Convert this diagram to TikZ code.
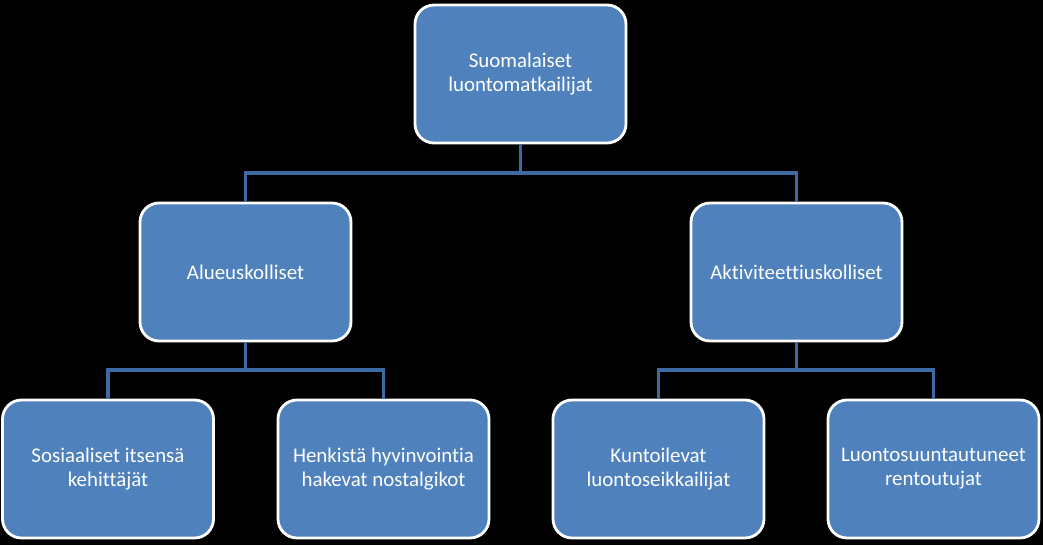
\documentclass[tikz,border=0pt]{standalone}
\usepackage{fontspec}
\setmainfont{Carlito}[Ligatures=NoCommon]
\usetikzlibrary{positioning,calc}
\definecolor{boxBlue}{HTML}{4F81BD}
\definecolor{lineBlue}{HTML}{3D6AA3}
\tikzset{
    orgbox/.style={draw=white, line width=1.6pt, fill=boxBlue, rounded corners=0.38cm,
        minimum width=4.22cm, minimum height=2.76cm, text=white, font=\fontsize{11.9}{13.6}\selectfont,
        align=center},
    orgline/.style={draw=lineBlue, line width=2.2pt}
}
\begin{document}
\begin{tikzpicture}
        \fill[black] (0,0) rectangle (20.86,-10.9);
        \useasboundingbox (0,0) rectangle (20.86,-10.9);
        \node[orgbox] (root) at (10.41,-1.48) {Suomalaiset\\luontomatkailijat};
        \node[orgbox] (alue) at (4.91,-5.44) {Alueuskolliset};
        \node[orgbox] (akti) at (15.93,-5.44) {Aktiviteettiuskolliset};
        \node[orgbox] (sosi) at (2.16,-9.38) {Sosiaaliset itsensä\\kehittäjät};
        \node[orgbox] (henk) at (7.67,-9.38) {Henkistä hyvinvointia\\hakevat nostalgikot};
        \node[orgbox] (kunt) at (13.17,-9.38) {Kuntoilevat\\luontoseikkailijat};
        \node[orgbox] (luon) at (18.67,-9.38) {Luontosuuntautuneet\\rentoutujat};
        \draw[orgline] (root.south) -- ++(0,-0.58) -| (alue.north);
        \draw[orgline] (root.south) -- ++(0,-0.58) -| (akti.north);
        \draw[orgline] (alue.south) -- ++(0,-0.56) -| (sosi.north);
        \draw[orgline] (alue.south) -- ++(0,-0.56) -| (henk.north);
        \draw[orgline] (akti.south) -- ++(0,-0.56) -| (kunt.north);
        \draw[orgline] (akti.south) -- ++(0,-0.56) -| (luon.north);
    \end{tikzpicture}
\end{document}
